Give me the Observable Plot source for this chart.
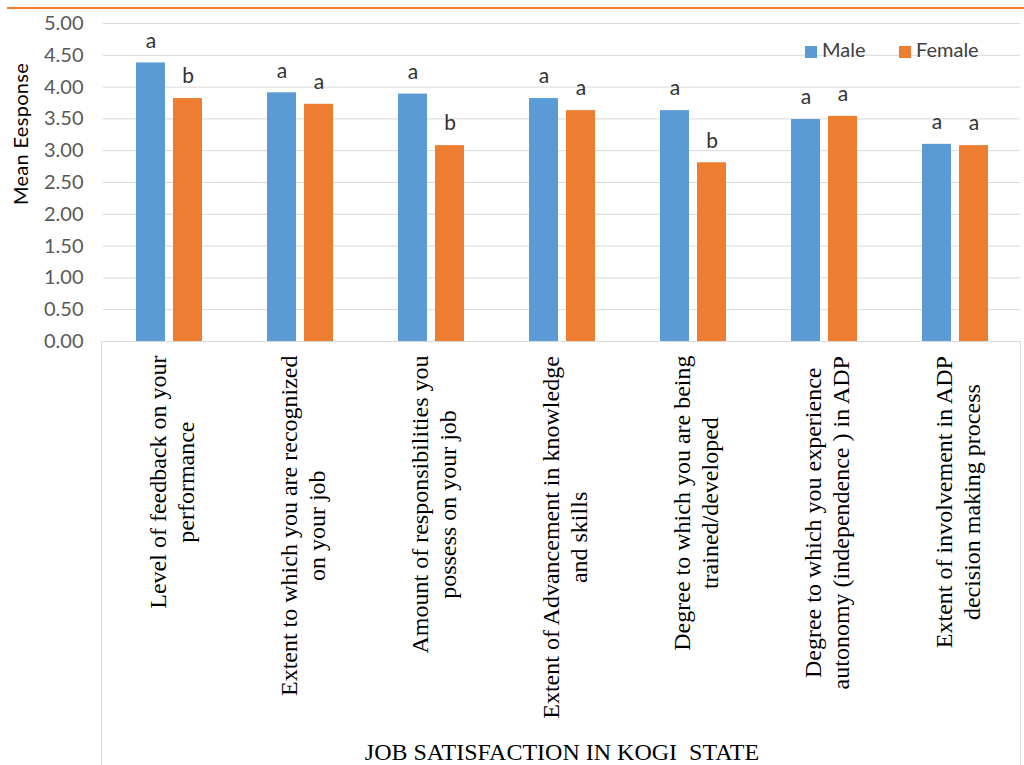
<!DOCTYPE html>
<html><head><meta charset="utf-8">
<script src="https://cdn.jsdelivr.net/npm/d3@7"></script>
<script src="https://cdn.jsdelivr.net/npm/@observablehq/plot@0.6"></script>
<style>
body{margin:0;background:#fff;}
#wrap{position:relative;width:1024px;height:765px;overflow:hidden;font-family:Lato,"Noto Sans",sans-serif;}
#topline{position:absolute;left:7px;top:7px;width:1017px;height:2px;background:#ED7D31;}
#chart{position:absolute;left:0;top:0;}
#box{position:absolute;left:101px;top:341px;width:918px;height:440px;border-left:1px solid #d9d9d9;border-right:1px solid #d9d9d9;}
#ytitle{position:absolute;left:20px;top:134px;transform:translate(-50%,-50%) rotate(-90deg);white-space:nowrap;font-size:20px;letter-spacing:0.3px;color:#000;}
#xtitle{position:absolute;left:562px;top:738px;transform:translateX(-50%);white-space:pre;font-family:"Liberation Serif","Times New Roman",serif;font-size:24px;line-height:28px;color:#000;}
.leg{position:absolute;top:37px;font-size:20px;line-height:24px;color:#404040;white-space:nowrap;}
.sw{display:inline-block;width:12px;height:12px;margin-right:5px;vertical-align:-1px;}
</style></head><body>
<div id="wrap">
  <div id="topline"></div>
  <div id="box"></div>
  <div id="chart"></div>
  <div id="ytitle"></div>
  <div id="xtitle"></div>
  <div id="legend"></div>
</div>
<script>
const categoryLines = [
  ["Level of feedback on your", "performance"],
  ["Extent to which you are recognized", "on your job"],
  ["Amount of responsibilities you", "possess on your job"],
  ["Extent of Advancement in knowledge", "and skills"],
  ["Degree to which you are being", "trained/developed"],
  ["Degree to which you experience", "autonomy (independence ) in ADP"],
  ["Extent of involvement in ADP", "decision making process"]
];
const categories = categoryLines.map(l => l.join(" "));
const sexes = ["Male", "Female"];
const maleValues = [4.38, 3.91, 3.89, 3.82, 3.63, 3.49, 3.10];
const femaleValues = [3.82, 3.73, 3.08, 3.63, 2.81, 3.54, 3.08];
const maleLetters = ["a", "a", "a", "a", "a", "a", "a"];
const femaleLetters = ["b", "a", "b", "a", "b", "a", "a"];
const yTicks = [0, 0.5, 1, 1.5, 2, 2.5, 3, 3.5, 4, 4.5, 5];
const yTitle = "Mean Eesponse";
const xTitle = "JOB SATISFACTION IN KOGI  STATE";
const colors = ["#5B9BD5", "#ED7D31"];

const rows = categories.flatMap((c, i) => [
  {cat: c, sex: "Male", value: maleValues[i], letter: maleLetters[i]},
  {cat: c, sex: "Female", value: femaleValues[i], letter: femaleLetters[i]}
]);

const serif = "'Liberation Serif', 'Times New Roman', serif";
const labelSize = 24;
const ctx = document.createElement("canvas").getContext("2d");
ctx.font = `${labelSize}px 'Liberation Serif'`;
const labelMarks = categories.map((c, i) => {
  const w = d3.max(categoryLines[i], s => ctx.measureText(s).width);
  return Plot.text([c], {
    fx: d => d,
    text: () => categoryLines[i].join("\n"),
    frameAnchor: "bottom",
    rotate: -90,
    textAnchor: "middle",
    lineAnchor: "middle",
    lineHeight: 1.17,
    fontFamily: serif,
    fontSize: labelSize,
    fill: "#000",
    dx: 2,
    dy: 14 + w / 2
  });
});

const chart = Plot.plot({
  width: 1024,
  height: 735,
  marginLeft: 101,
  marginRight: 3,
  marginTop: 23,
  marginBottom: 394,
  style: {fontFamily: "Lato, 'Noto Sans', sans-serif", fontSize: "20px", color: "#595959", background: "transparent"},
  fx: {domain: categories, padding: 0, axis: null},
  x: {domain: sexes, paddingInner: 0.22, paddingOuter: 0.84, axis: null},
  y: {domain: [0, 5], axis: null},
  color: {domain: sexes, range: colors},
  marks: [
    Plot.gridY(yTicks.slice(1), {stroke: "#d9d9d9", strokeOpacity: 1}),
    Plot.ruleY([0], {stroke: "#d9d9d9"}),
    Plot.axisY(yTicks, {tickSize: 0, tickPadding: 20, tickFormat: d3.format(".2f"), label: null}),
    Plot.barY(rows, {fx: "cat", x: "sex", y: "value", fill: "sex"}),
    Plot.text(rows, {fx: "cat", x: "sex", y: "value", text: "letter", dy: -22, fill: "#333333", fontSize: 21}),
    ...labelMarks
  ]
});
document.getElementById("chart").appendChild(chart);
document.getElementById("ytitle").textContent = yTitle;
document.getElementById("xtitle").textContent = xTitle;

const legend = document.getElementById("legend");
const legendLeft = [805, 899];
sexes.forEach((s, i) => {
  const el = document.createElement("div");
  el.className = "leg";
  el.style.left = legendLeft[i] + "px";
  el.innerHTML = `<span class="sw" style="background:${colors[i]}"></span>`;
  el.appendChild(document.createTextNode(s));
  legend.appendChild(el);
});
</script>
</body></html>
